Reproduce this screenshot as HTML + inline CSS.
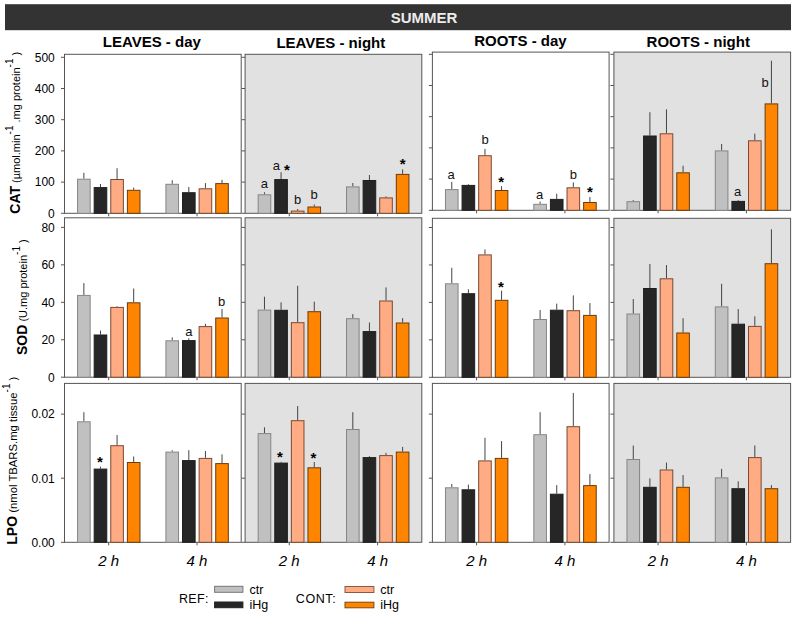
<!DOCTYPE html>
<html><head><meta charset="utf-8"><style>
html,body{margin:0;padding:0;background:#fff;width:796px;height:618px;overflow:hidden;position:relative}
</style></head><body>
<svg width="796" height="618" viewBox="0 0 796 618" style="position:absolute;left:0;top:0">
<rect x="5" y="4.2" width="786" height="26" fill="#333333"/>
<text x="424" y="22.6" text-anchor="middle" font-family='"Liberation Sans", sans-serif' font-weight="bold" font-size="15" fill="#ececec">SUMMER</text>
<text x="102.8" y="46.8" font-family='"Liberation Sans", sans-serif' font-weight="bold" font-size="15" fill="#000">LEAVES - day</text>
<text x="276.40000000000003" y="48.1" font-family='"Liberation Sans", sans-serif' font-weight="bold" font-size="15" fill="#000">LEAVES - night</text>
<text x="474.20000000000005" y="45.7" font-family='"Liberation Sans", sans-serif' font-weight="bold" font-size="15" fill="#000">ROOTS - day</text>
<text x="646.6" y="47.0" font-family='"Liberation Sans", sans-serif' font-weight="bold" font-size="15" fill="#000">ROOTS - night</text>
<rect x="64.5" y="54.3" width="176.70" height="159.00" fill="#ffffff" stroke="#555555" stroke-width="1"/>
<line x1="61.0" y1="213.30" x2="64.5" y2="213.30" stroke="#555555" stroke-width="1"/>
<text x="54.8" y="217.60" text-anchor="end" font-family='"Liberation Sans", sans-serif' font-size="12" fill="#000">0</text>
<line x1="61.0" y1="182.10" x2="64.5" y2="182.10" stroke="#555555" stroke-width="1"/>
<text x="54.8" y="186.40" text-anchor="end" font-family='"Liberation Sans", sans-serif' font-size="12" fill="#000">100</text>
<line x1="61.0" y1="150.90" x2="64.5" y2="150.90" stroke="#555555" stroke-width="1"/>
<text x="54.8" y="155.20" text-anchor="end" font-family='"Liberation Sans", sans-serif' font-size="12" fill="#000">200</text>
<line x1="61.0" y1="119.70" x2="64.5" y2="119.70" stroke="#555555" stroke-width="1"/>
<text x="54.8" y="124.00" text-anchor="end" font-family='"Liberation Sans", sans-serif' font-size="12" fill="#000">300</text>
<line x1="61.0" y1="88.50" x2="64.5" y2="88.50" stroke="#555555" stroke-width="1"/>
<text x="54.8" y="92.80" text-anchor="end" font-family='"Liberation Sans", sans-serif' font-size="12" fill="#000">400</text>
<line x1="61.0" y1="57.30" x2="64.5" y2="57.30" stroke="#555555" stroke-width="1"/>
<text x="54.8" y="61.60" text-anchor="end" font-family='"Liberation Sans", sans-serif' font-size="12" fill="#000">500</text>
<line x1="108.67" y1="213.3" x2="108.67" y2="216.3" stroke="#555555" stroke-width="1"/>
<line x1="83.87" y1="172.8" x2="83.87" y2="178.7" stroke="#444" stroke-width="1"/>
<rect x="77.57" y="179.20" width="12.6" height="34.10" fill="#c0c0c0" stroke="#858585" stroke-width="1"/>
<line x1="100.47" y1="184.0" x2="100.47" y2="187.1" stroke="#444" stroke-width="1"/>
<rect x="94.17" y="187.60" width="12.6" height="25.70" fill="#262626" stroke="#1e1e1e" stroke-width="1"/>
<line x1="117.07" y1="168.2" x2="117.07" y2="179.0" stroke="#444" stroke-width="1"/>
<rect x="110.77" y="179.50" width="12.6" height="33.80" fill="#ffac84" stroke="#7a4a30" stroke-width="1"/>
<line x1="133.68" y1="187.6" x2="133.68" y2="189.8" stroke="#444" stroke-width="1"/>
<rect x="127.38" y="190.30" width="12.6" height="23.00" fill="#ff8400" stroke="#6a3a10" stroke-width="1"/>
<line x1="197.02" y1="213.3" x2="197.02" y2="216.3" stroke="#555555" stroke-width="1"/>
<line x1="172.22" y1="180.2" x2="172.22" y2="183.8" stroke="#444" stroke-width="1"/>
<rect x="165.92" y="184.30" width="12.6" height="29.00" fill="#c0c0c0" stroke="#858585" stroke-width="1"/>
<line x1="188.82" y1="187.0" x2="188.82" y2="192.2" stroke="#444" stroke-width="1"/>
<rect x="182.52" y="192.70" width="12.6" height="20.60" fill="#262626" stroke="#1e1e1e" stroke-width="1"/>
<line x1="205.43" y1="183.1" x2="205.43" y2="188.3" stroke="#444" stroke-width="1"/>
<rect x="199.12" y="188.80" width="12.6" height="24.50" fill="#ffac84" stroke="#7a4a30" stroke-width="1"/>
<line x1="222.03" y1="179.8" x2="222.03" y2="183.1" stroke="#444" stroke-width="1"/>
<rect x="215.72" y="183.60" width="12.6" height="29.70" fill="#ff8400" stroke="#6a3a10" stroke-width="1"/>
<rect x="245.1" y="54.3" width="176.70" height="159.00" fill="#e1e1e1" stroke="#555555" stroke-width="1"/>
<line x1="241.6" y1="213.30" x2="245.1" y2="213.30" stroke="#555555" stroke-width="1"/>
<line x1="241.6" y1="182.10" x2="245.1" y2="182.10" stroke="#555555" stroke-width="1"/>
<line x1="241.6" y1="150.90" x2="245.1" y2="150.90" stroke="#555555" stroke-width="1"/>
<line x1="241.6" y1="119.70" x2="245.1" y2="119.70" stroke="#555555" stroke-width="1"/>
<line x1="241.6" y1="88.50" x2="245.1" y2="88.50" stroke="#555555" stroke-width="1"/>
<line x1="241.6" y1="57.30" x2="245.1" y2="57.30" stroke="#555555" stroke-width="1"/>
<line x1="289.27" y1="213.3" x2="289.27" y2="216.3" stroke="#555555" stroke-width="1"/>
<line x1="264.47" y1="192.3" x2="264.47" y2="194.3" stroke="#444" stroke-width="1"/>
<rect x="258.17" y="194.80" width="12.6" height="18.50" fill="#c0c0c0" stroke="#858585" stroke-width="1"/>
<line x1="281.07" y1="172.2" x2="281.07" y2="179.1" stroke="#444" stroke-width="1"/>
<rect x="274.77" y="179.60" width="12.6" height="33.70" fill="#262626" stroke="#1e1e1e" stroke-width="1"/>
<line x1="297.67" y1="209.0" x2="297.67" y2="210.6" stroke="#444" stroke-width="1"/>
<rect x="291.37" y="211.10" width="12.6" height="2.20" fill="#ffac84" stroke="#7a4a30" stroke-width="1"/>
<line x1="314.27" y1="204.5" x2="314.27" y2="206.5" stroke="#444" stroke-width="1"/>
<rect x="307.97" y="207.00" width="12.6" height="6.30" fill="#ff8400" stroke="#6a3a10" stroke-width="1"/>
<line x1="377.62" y1="213.3" x2="377.62" y2="216.3" stroke="#555555" stroke-width="1"/>
<line x1="352.82" y1="183.0" x2="352.82" y2="186.4" stroke="#444" stroke-width="1"/>
<rect x="346.52" y="186.90" width="12.6" height="26.40" fill="#c0c0c0" stroke="#858585" stroke-width="1"/>
<line x1="369.43" y1="175.0" x2="369.43" y2="180.0" stroke="#444" stroke-width="1"/>
<rect x="363.12" y="180.50" width="12.6" height="32.80" fill="#262626" stroke="#1e1e1e" stroke-width="1"/>
<line x1="386.02" y1="196.3" x2="386.02" y2="197.4" stroke="#444" stroke-width="1"/>
<rect x="379.72" y="197.90" width="12.6" height="15.40" fill="#ffac84" stroke="#7a4a30" stroke-width="1"/>
<line x1="402.62" y1="169.4" x2="402.62" y2="173.9" stroke="#444" stroke-width="1"/>
<rect x="396.32" y="174.40" width="12.6" height="38.90" fill="#ff8400" stroke="#6a3a10" stroke-width="1"/>
<rect x="432.4" y="52.1" width="176.70" height="158.20" fill="#ffffff" stroke="#555555" stroke-width="1"/>
<line x1="428.9" y1="210.30" x2="432.4" y2="210.30" stroke="#555555" stroke-width="1"/>
<line x1="428.9" y1="179.10" x2="432.4" y2="179.10" stroke="#555555" stroke-width="1"/>
<line x1="428.9" y1="147.90" x2="432.4" y2="147.90" stroke="#555555" stroke-width="1"/>
<line x1="428.9" y1="116.70" x2="432.4" y2="116.70" stroke="#555555" stroke-width="1"/>
<line x1="428.9" y1="85.50" x2="432.4" y2="85.50" stroke="#555555" stroke-width="1"/>
<line x1="428.9" y1="54.30" x2="432.4" y2="54.30" stroke="#555555" stroke-width="1"/>
<line x1="476.57" y1="210.3" x2="476.57" y2="213.3" stroke="#555555" stroke-width="1"/>
<line x1="451.77" y1="181.9" x2="451.77" y2="189.1" stroke="#444" stroke-width="1"/>
<rect x="445.47" y="189.60" width="12.6" height="20.70" fill="#c0c0c0" stroke="#858585" stroke-width="1"/>
<line x1="468.38" y1="184.2" x2="468.38" y2="184.9" stroke="#444" stroke-width="1"/>
<rect x="462.07" y="185.40" width="12.6" height="24.90" fill="#262626" stroke="#1e1e1e" stroke-width="1"/>
<line x1="484.97" y1="148.9" x2="484.97" y2="155.2" stroke="#444" stroke-width="1"/>
<rect x="478.67" y="155.70" width="12.6" height="54.60" fill="#ffac84" stroke="#7a4a30" stroke-width="1"/>
<line x1="501.57" y1="186.2" x2="501.57" y2="190.0" stroke="#444" stroke-width="1"/>
<rect x="495.27" y="190.50" width="12.6" height="19.80" fill="#ff8400" stroke="#6a3a10" stroke-width="1"/>
<line x1="564.92" y1="210.3" x2="564.92" y2="213.3" stroke="#555555" stroke-width="1"/>
<line x1="540.12" y1="201.6" x2="540.12" y2="203.8" stroke="#444" stroke-width="1"/>
<rect x="533.82" y="204.30" width="12.6" height="6.00" fill="#c0c0c0" stroke="#858585" stroke-width="1"/>
<line x1="556.72" y1="193.7" x2="556.72" y2="198.9" stroke="#444" stroke-width="1"/>
<rect x="550.42" y="199.40" width="12.6" height="10.90" fill="#262626" stroke="#1e1e1e" stroke-width="1"/>
<line x1="573.32" y1="182.4" x2="573.32" y2="187.3" stroke="#444" stroke-width="1"/>
<rect x="567.02" y="187.80" width="12.6" height="22.50" fill="#ffac84" stroke="#7a4a30" stroke-width="1"/>
<line x1="589.92" y1="197.1" x2="589.92" y2="202.0" stroke="#444" stroke-width="1"/>
<rect x="583.62" y="202.50" width="12.6" height="7.80" fill="#ff8400" stroke="#6a3a10" stroke-width="1"/>
<rect x="613.9" y="52.1" width="176.70" height="158.20" fill="#e1e1e1" stroke="#555555" stroke-width="1"/>
<line x1="610.4" y1="210.30" x2="613.9" y2="210.30" stroke="#555555" stroke-width="1"/>
<line x1="610.4" y1="179.10" x2="613.9" y2="179.10" stroke="#555555" stroke-width="1"/>
<line x1="610.4" y1="147.90" x2="613.9" y2="147.90" stroke="#555555" stroke-width="1"/>
<line x1="610.4" y1="116.70" x2="613.9" y2="116.70" stroke="#555555" stroke-width="1"/>
<line x1="610.4" y1="85.50" x2="613.9" y2="85.50" stroke="#555555" stroke-width="1"/>
<line x1="610.4" y1="54.30" x2="613.9" y2="54.30" stroke="#555555" stroke-width="1"/>
<line x1="658.08" y1="210.3" x2="658.08" y2="213.3" stroke="#555555" stroke-width="1"/>
<line x1="633.27" y1="200.1" x2="633.27" y2="201.2" stroke="#444" stroke-width="1"/>
<rect x="626.98" y="201.70" width="12.6" height="8.60" fill="#c0c0c0" stroke="#858585" stroke-width="1"/>
<line x1="649.88" y1="112.2" x2="649.88" y2="135.5" stroke="#444" stroke-width="1"/>
<rect x="643.58" y="136.00" width="12.6" height="74.30" fill="#262626" stroke="#1e1e1e" stroke-width="1"/>
<line x1="666.48" y1="109.3" x2="666.48" y2="133.3" stroke="#444" stroke-width="1"/>
<rect x="660.18" y="133.80" width="12.6" height="76.50" fill="#ffac84" stroke="#7a4a30" stroke-width="1"/>
<line x1="683.07" y1="165.7" x2="683.07" y2="172.3" stroke="#444" stroke-width="1"/>
<rect x="676.77" y="172.80" width="12.6" height="37.50" fill="#ff8400" stroke="#6a3a10" stroke-width="1"/>
<line x1="746.42" y1="210.3" x2="746.42" y2="213.3" stroke="#555555" stroke-width="1"/>
<line x1="721.62" y1="144.0" x2="721.62" y2="150.4" stroke="#444" stroke-width="1"/>
<rect x="715.32" y="150.90" width="12.6" height="59.40" fill="#c0c0c0" stroke="#858585" stroke-width="1"/>
<line x1="738.22" y1="200.1" x2="738.22" y2="200.9" stroke="#444" stroke-width="1"/>
<rect x="731.92" y="201.40" width="12.6" height="8.90" fill="#262626" stroke="#1e1e1e" stroke-width="1"/>
<line x1="754.82" y1="133.6" x2="754.82" y2="140.3" stroke="#444" stroke-width="1"/>
<rect x="748.52" y="140.80" width="12.6" height="69.50" fill="#ffac84" stroke="#7a4a30" stroke-width="1"/>
<line x1="771.42" y1="60.7" x2="771.42" y2="103.4" stroke="#444" stroke-width="1"/>
<rect x="765.12" y="103.90" width="12.6" height="106.40" fill="#ff8400" stroke="#6a3a10" stroke-width="1"/>
<rect x="64.5" y="217.8" width="176.70" height="159.40" fill="#ffffff" stroke="#555555" stroke-width="1"/>
<line x1="61.0" y1="377.20" x2="64.5" y2="377.20" stroke="#555555" stroke-width="1"/>
<text x="54.8" y="381.50" text-anchor="end" font-family='"Liberation Sans", sans-serif' font-size="12" fill="#000">0</text>
<line x1="61.0" y1="339.75" x2="64.5" y2="339.75" stroke="#555555" stroke-width="1"/>
<text x="54.8" y="344.05" text-anchor="end" font-family='"Liberation Sans", sans-serif' font-size="12" fill="#000">20</text>
<line x1="61.0" y1="302.30" x2="64.5" y2="302.30" stroke="#555555" stroke-width="1"/>
<text x="54.8" y="306.60" text-anchor="end" font-family='"Liberation Sans", sans-serif' font-size="12" fill="#000">40</text>
<line x1="61.0" y1="264.85" x2="64.5" y2="264.85" stroke="#555555" stroke-width="1"/>
<text x="54.8" y="269.15" text-anchor="end" font-family='"Liberation Sans", sans-serif' font-size="12" fill="#000">60</text>
<line x1="61.0" y1="227.40" x2="64.5" y2="227.40" stroke="#555555" stroke-width="1"/>
<text x="54.8" y="231.70" text-anchor="end" font-family='"Liberation Sans", sans-serif' font-size="12" fill="#000">80</text>
<line x1="108.67" y1="377.2" x2="108.67" y2="380.2" stroke="#555555" stroke-width="1"/>
<line x1="83.87" y1="283.1" x2="83.87" y2="294.9" stroke="#444" stroke-width="1"/>
<rect x="77.57" y="295.40" width="12.6" height="81.80" fill="#c0c0c0" stroke="#858585" stroke-width="1"/>
<line x1="100.47" y1="330.6" x2="100.47" y2="334.5" stroke="#444" stroke-width="1"/>
<rect x="94.17" y="335.00" width="12.6" height="42.20" fill="#262626" stroke="#1e1e1e" stroke-width="1"/>
<line x1="117.07" y1="306.2" x2="117.07" y2="306.9" stroke="#444" stroke-width="1"/>
<rect x="110.77" y="307.40" width="12.6" height="69.80" fill="#ffac84" stroke="#7a4a30" stroke-width="1"/>
<line x1="133.68" y1="288.5" x2="133.68" y2="302.3" stroke="#444" stroke-width="1"/>
<rect x="127.38" y="302.80" width="12.6" height="74.40" fill="#ff8400" stroke="#6a3a10" stroke-width="1"/>
<line x1="197.02" y1="377.2" x2="197.02" y2="380.2" stroke="#555555" stroke-width="1"/>
<line x1="172.22" y1="337.4" x2="172.22" y2="340.3" stroke="#444" stroke-width="1"/>
<rect x="165.92" y="340.80" width="12.6" height="36.40" fill="#c0c0c0" stroke="#858585" stroke-width="1"/>
<line x1="188.82" y1="338.3" x2="188.82" y2="340.1" stroke="#444" stroke-width="1"/>
<rect x="182.52" y="340.60" width="12.6" height="36.60" fill="#262626" stroke="#1e1e1e" stroke-width="1"/>
<line x1="205.43" y1="323.8" x2="205.43" y2="326.1" stroke="#444" stroke-width="1"/>
<rect x="199.12" y="326.60" width="12.6" height="50.60" fill="#ffac84" stroke="#7a4a30" stroke-width="1"/>
<line x1="222.03" y1="309.1" x2="222.03" y2="317.5" stroke="#444" stroke-width="1"/>
<rect x="215.72" y="318.00" width="12.6" height="59.20" fill="#ff8400" stroke="#6a3a10" stroke-width="1"/>
<rect x="245.1" y="217.8" width="176.70" height="159.40" fill="#e1e1e1" stroke="#555555" stroke-width="1"/>
<line x1="241.6" y1="377.20" x2="245.1" y2="377.20" stroke="#555555" stroke-width="1"/>
<line x1="241.6" y1="339.75" x2="245.1" y2="339.75" stroke="#555555" stroke-width="1"/>
<line x1="241.6" y1="302.30" x2="245.1" y2="302.30" stroke="#555555" stroke-width="1"/>
<line x1="241.6" y1="264.85" x2="245.1" y2="264.85" stroke="#555555" stroke-width="1"/>
<line x1="241.6" y1="227.40" x2="245.1" y2="227.40" stroke="#555555" stroke-width="1"/>
<line x1="289.27" y1="377.2" x2="289.27" y2="380.2" stroke="#555555" stroke-width="1"/>
<line x1="264.47" y1="296.7" x2="264.47" y2="309.6" stroke="#444" stroke-width="1"/>
<rect x="258.17" y="310.10" width="12.6" height="67.10" fill="#c0c0c0" stroke="#858585" stroke-width="1"/>
<line x1="281.07" y1="302.3" x2="281.07" y2="309.8" stroke="#444" stroke-width="1"/>
<rect x="274.77" y="310.30" width="12.6" height="66.90" fill="#262626" stroke="#1e1e1e" stroke-width="1"/>
<line x1="297.67" y1="285.8" x2="297.67" y2="322.2" stroke="#444" stroke-width="1"/>
<rect x="291.37" y="322.70" width="12.6" height="54.50" fill="#ffac84" stroke="#7a4a30" stroke-width="1"/>
<line x1="314.27" y1="301.7" x2="314.27" y2="311.2" stroke="#444" stroke-width="1"/>
<rect x="307.97" y="311.70" width="12.6" height="65.50" fill="#ff8400" stroke="#6a3a10" stroke-width="1"/>
<line x1="377.62" y1="377.2" x2="377.62" y2="380.2" stroke="#555555" stroke-width="1"/>
<line x1="352.82" y1="314.1" x2="352.82" y2="318.2" stroke="#444" stroke-width="1"/>
<rect x="346.52" y="318.70" width="12.6" height="58.50" fill="#c0c0c0" stroke="#858585" stroke-width="1"/>
<line x1="369.43" y1="322.5" x2="369.43" y2="331.1" stroke="#444" stroke-width="1"/>
<rect x="363.12" y="331.60" width="12.6" height="45.60" fill="#262626" stroke="#1e1e1e" stroke-width="1"/>
<line x1="386.02" y1="287.4" x2="386.02" y2="300.5" stroke="#444" stroke-width="1"/>
<rect x="379.72" y="301.00" width="12.6" height="76.20" fill="#ffac84" stroke="#7a4a30" stroke-width="1"/>
<line x1="402.62" y1="318.2" x2="402.62" y2="322.5" stroke="#444" stroke-width="1"/>
<rect x="396.32" y="323.00" width="12.6" height="54.20" fill="#ff8400" stroke="#6a3a10" stroke-width="1"/>
<rect x="432.4" y="218.3" width="176.70" height="159.00" fill="#ffffff" stroke="#555555" stroke-width="1"/>
<line x1="428.9" y1="377.30" x2="432.4" y2="377.30" stroke="#555555" stroke-width="1"/>
<line x1="428.9" y1="339.85" x2="432.4" y2="339.85" stroke="#555555" stroke-width="1"/>
<line x1="428.9" y1="302.40" x2="432.4" y2="302.40" stroke="#555555" stroke-width="1"/>
<line x1="428.9" y1="264.95" x2="432.4" y2="264.95" stroke="#555555" stroke-width="1"/>
<line x1="428.9" y1="227.50" x2="432.4" y2="227.50" stroke="#555555" stroke-width="1"/>
<line x1="476.57" y1="377.3" x2="476.57" y2="380.3" stroke="#555555" stroke-width="1"/>
<line x1="451.77" y1="267.8" x2="451.77" y2="283.3" stroke="#444" stroke-width="1"/>
<rect x="445.47" y="283.80" width="12.6" height="93.50" fill="#c0c0c0" stroke="#858585" stroke-width="1"/>
<line x1="468.38" y1="289.3" x2="468.38" y2="293.2" stroke="#444" stroke-width="1"/>
<rect x="462.07" y="293.70" width="12.6" height="83.60" fill="#262626" stroke="#1e1e1e" stroke-width="1"/>
<line x1="484.97" y1="249.4" x2="484.97" y2="254.4" stroke="#444" stroke-width="1"/>
<rect x="478.67" y="254.90" width="12.6" height="122.40" fill="#ffac84" stroke="#7a4a30" stroke-width="1"/>
<line x1="501.57" y1="290.7" x2="501.57" y2="299.8" stroke="#444" stroke-width="1"/>
<rect x="495.27" y="300.30" width="12.6" height="77.00" fill="#ff8400" stroke="#6a3a10" stroke-width="1"/>
<line x1="564.92" y1="377.3" x2="564.92" y2="380.3" stroke="#555555" stroke-width="1"/>
<line x1="540.12" y1="310.0" x2="540.12" y2="319.0" stroke="#444" stroke-width="1"/>
<rect x="533.82" y="319.50" width="12.6" height="57.80" fill="#c0c0c0" stroke="#858585" stroke-width="1"/>
<line x1="556.72" y1="303.6" x2="556.72" y2="309.7" stroke="#444" stroke-width="1"/>
<rect x="550.42" y="310.20" width="12.6" height="67.10" fill="#262626" stroke="#1e1e1e" stroke-width="1"/>
<line x1="573.32" y1="295.4" x2="573.32" y2="310.2" stroke="#444" stroke-width="1"/>
<rect x="567.02" y="310.70" width="12.6" height="66.60" fill="#ffac84" stroke="#7a4a30" stroke-width="1"/>
<line x1="589.92" y1="303.1" x2="589.92" y2="314.9" stroke="#444" stroke-width="1"/>
<rect x="583.62" y="315.40" width="12.6" height="61.90" fill="#ff8400" stroke="#6a3a10" stroke-width="1"/>
<rect x="613.9" y="218.3" width="176.70" height="159.00" fill="#e1e1e1" stroke="#555555" stroke-width="1"/>
<line x1="610.4" y1="377.30" x2="613.9" y2="377.30" stroke="#555555" stroke-width="1"/>
<line x1="610.4" y1="339.85" x2="613.9" y2="339.85" stroke="#555555" stroke-width="1"/>
<line x1="610.4" y1="302.40" x2="613.9" y2="302.40" stroke="#555555" stroke-width="1"/>
<line x1="610.4" y1="264.95" x2="613.9" y2="264.95" stroke="#555555" stroke-width="1"/>
<line x1="610.4" y1="227.50" x2="613.9" y2="227.50" stroke="#555555" stroke-width="1"/>
<line x1="658.08" y1="377.3" x2="658.08" y2="380.3" stroke="#555555" stroke-width="1"/>
<line x1="633.27" y1="299.0" x2="633.27" y2="313.5" stroke="#444" stroke-width="1"/>
<rect x="626.98" y="314.00" width="12.6" height="63.30" fill="#c0c0c0" stroke="#858585" stroke-width="1"/>
<line x1="649.88" y1="264.0" x2="649.88" y2="288.0" stroke="#444" stroke-width="1"/>
<rect x="643.58" y="288.50" width="12.6" height="88.80" fill="#262626" stroke="#1e1e1e" stroke-width="1"/>
<line x1="666.48" y1="265.1" x2="666.48" y2="278.3" stroke="#444" stroke-width="1"/>
<rect x="660.18" y="278.80" width="12.6" height="98.50" fill="#ffac84" stroke="#7a4a30" stroke-width="1"/>
<line x1="683.07" y1="318.2" x2="683.07" y2="332.5" stroke="#444" stroke-width="1"/>
<rect x="676.77" y="333.00" width="12.6" height="44.30" fill="#ff8400" stroke="#6a3a10" stroke-width="1"/>
<line x1="746.42" y1="377.3" x2="746.42" y2="380.3" stroke="#555555" stroke-width="1"/>
<line x1="721.62" y1="283.8" x2="721.62" y2="306.4" stroke="#444" stroke-width="1"/>
<rect x="715.32" y="306.90" width="12.6" height="70.40" fill="#c0c0c0" stroke="#858585" stroke-width="1"/>
<line x1="738.22" y1="309.1" x2="738.22" y2="323.7" stroke="#444" stroke-width="1"/>
<rect x="731.92" y="324.20" width="12.6" height="53.10" fill="#262626" stroke="#1e1e1e" stroke-width="1"/>
<line x1="754.82" y1="316.3" x2="754.82" y2="325.9" stroke="#444" stroke-width="1"/>
<rect x="748.52" y="326.40" width="12.6" height="50.90" fill="#ffac84" stroke="#7a4a30" stroke-width="1"/>
<line x1="771.42" y1="229.3" x2="771.42" y2="263.2" stroke="#444" stroke-width="1"/>
<rect x="765.12" y="263.70" width="12.6" height="113.60" fill="#ff8400" stroke="#6a3a10" stroke-width="1"/>
<rect x="64.5" y="383.4" width="176.70" height="158.90" fill="#ffffff" stroke="#555555" stroke-width="1"/>
<line x1="61.0" y1="542.30" x2="64.5" y2="542.30" stroke="#555555" stroke-width="1"/>
<text x="54.8" y="546.60" text-anchor="end" font-family='"Liberation Sans", sans-serif' font-size="12" fill="#000">0.00</text>
<line x1="61.0" y1="478.20" x2="64.5" y2="478.20" stroke="#555555" stroke-width="1"/>
<text x="54.8" y="482.50" text-anchor="end" font-family='"Liberation Sans", sans-serif' font-size="12" fill="#000">0.01</text>
<line x1="61.0" y1="414.10" x2="64.5" y2="414.10" stroke="#555555" stroke-width="1"/>
<text x="54.8" y="418.40" text-anchor="end" font-family='"Liberation Sans", sans-serif' font-size="12" fill="#000">0.02</text>
<line x1="108.67" y1="542.3" x2="108.67" y2="545.3" stroke="#555555" stroke-width="1"/>
<line x1="83.87" y1="412.2" x2="83.87" y2="421.3" stroke="#444" stroke-width="1"/>
<rect x="77.57" y="421.80" width="12.6" height="120.50" fill="#c0c0c0" stroke="#858585" stroke-width="1"/>
<line x1="100.47" y1="466.7" x2="100.47" y2="468.6" stroke="#444" stroke-width="1"/>
<rect x="94.17" y="469.10" width="12.6" height="73.20" fill="#262626" stroke="#1e1e1e" stroke-width="1"/>
<line x1="117.07" y1="435.0" x2="117.07" y2="445.2" stroke="#444" stroke-width="1"/>
<rect x="110.77" y="445.70" width="12.6" height="96.60" fill="#ffac84" stroke="#7a4a30" stroke-width="1"/>
<line x1="133.68" y1="456.5" x2="133.68" y2="462.0" stroke="#444" stroke-width="1"/>
<rect x="127.38" y="462.50" width="12.6" height="79.80" fill="#ff8400" stroke="#6a3a10" stroke-width="1"/>
<line x1="197.02" y1="542.3" x2="197.02" y2="545.3" stroke="#555555" stroke-width="1"/>
<line x1="172.22" y1="450.2" x2="172.22" y2="451.6" stroke="#444" stroke-width="1"/>
<rect x="165.92" y="452.10" width="12.6" height="90.20" fill="#c0c0c0" stroke="#858585" stroke-width="1"/>
<line x1="188.82" y1="450.2" x2="188.82" y2="460.1" stroke="#444" stroke-width="1"/>
<rect x="182.52" y="460.60" width="12.6" height="81.70" fill="#262626" stroke="#1e1e1e" stroke-width="1"/>
<line x1="205.43" y1="451.0" x2="205.43" y2="457.9" stroke="#444" stroke-width="1"/>
<rect x="199.12" y="458.40" width="12.6" height="83.90" fill="#ffac84" stroke="#7a4a30" stroke-width="1"/>
<line x1="222.03" y1="454.3" x2="222.03" y2="463.1" stroke="#444" stroke-width="1"/>
<rect x="215.72" y="463.60" width="12.6" height="78.70" fill="#ff8400" stroke="#6a3a10" stroke-width="1"/>
<rect x="245.1" y="383.4" width="176.70" height="158.90" fill="#e1e1e1" stroke="#555555" stroke-width="1"/>
<line x1="241.6" y1="542.30" x2="245.1" y2="542.30" stroke="#555555" stroke-width="1"/>
<line x1="241.6" y1="478.20" x2="245.1" y2="478.20" stroke="#555555" stroke-width="1"/>
<line x1="241.6" y1="414.10" x2="245.1" y2="414.10" stroke="#555555" stroke-width="1"/>
<line x1="289.27" y1="542.3" x2="289.27" y2="545.3" stroke="#555555" stroke-width="1"/>
<line x1="264.47" y1="427.3" x2="264.47" y2="433.1" stroke="#444" stroke-width="1"/>
<rect x="258.17" y="433.60" width="12.6" height="108.70" fill="#c0c0c0" stroke="#858585" stroke-width="1"/>
<line x1="281.07" y1="461.8" x2="281.07" y2="462.6" stroke="#444" stroke-width="1"/>
<rect x="274.77" y="463.10" width="12.6" height="79.20" fill="#262626" stroke="#1e1e1e" stroke-width="1"/>
<line x1="297.67" y1="406.1" x2="297.67" y2="420.2" stroke="#444" stroke-width="1"/>
<rect x="291.37" y="420.70" width="12.6" height="121.60" fill="#ffac84" stroke="#7a4a30" stroke-width="1"/>
<line x1="314.27" y1="462.0" x2="314.27" y2="467.3" stroke="#444" stroke-width="1"/>
<rect x="307.97" y="467.80" width="12.6" height="74.50" fill="#ff8400" stroke="#6a3a10" stroke-width="1"/>
<line x1="377.62" y1="542.3" x2="377.62" y2="545.3" stroke="#555555" stroke-width="1"/>
<line x1="352.82" y1="412.2" x2="352.82" y2="429.0" stroke="#444" stroke-width="1"/>
<rect x="346.52" y="429.50" width="12.6" height="112.80" fill="#c0c0c0" stroke="#858585" stroke-width="1"/>
<line x1="369.43" y1="456.2" x2="369.43" y2="457.1" stroke="#444" stroke-width="1"/>
<rect x="363.12" y="457.60" width="12.6" height="84.70" fill="#262626" stroke="#1e1e1e" stroke-width="1"/>
<line x1="386.02" y1="452.9" x2="386.02" y2="455.1" stroke="#444" stroke-width="1"/>
<rect x="379.72" y="455.60" width="12.6" height="86.70" fill="#ffac84" stroke="#7a4a30" stroke-width="1"/>
<line x1="402.62" y1="446.9" x2="402.62" y2="451.6" stroke="#444" stroke-width="1"/>
<rect x="396.32" y="452.10" width="12.6" height="90.20" fill="#ff8400" stroke="#6a3a10" stroke-width="1"/>
<rect x="432.4" y="383.4" width="176.70" height="158.90" fill="#ffffff" stroke="#555555" stroke-width="1"/>
<line x1="428.9" y1="542.30" x2="432.4" y2="542.30" stroke="#555555" stroke-width="1"/>
<line x1="428.9" y1="478.20" x2="432.4" y2="478.20" stroke="#555555" stroke-width="1"/>
<line x1="428.9" y1="414.10" x2="432.4" y2="414.10" stroke="#555555" stroke-width="1"/>
<line x1="476.57" y1="542.3" x2="476.57" y2="545.3" stroke="#555555" stroke-width="1"/>
<line x1="451.77" y1="484.0" x2="451.77" y2="487.3" stroke="#444" stroke-width="1"/>
<rect x="445.47" y="487.80" width="12.6" height="54.50" fill="#c0c0c0" stroke="#858585" stroke-width="1"/>
<line x1="468.38" y1="484.6" x2="468.38" y2="489.3" stroke="#444" stroke-width="1"/>
<rect x="462.07" y="489.80" width="12.6" height="52.50" fill="#262626" stroke="#1e1e1e" stroke-width="1"/>
<line x1="484.97" y1="437.8" x2="484.97" y2="460.4" stroke="#444" stroke-width="1"/>
<rect x="478.67" y="460.90" width="12.6" height="81.40" fill="#ffac84" stroke="#7a4a30" stroke-width="1"/>
<line x1="501.57" y1="441.1" x2="501.57" y2="457.9" stroke="#444" stroke-width="1"/>
<rect x="495.27" y="458.40" width="12.6" height="83.90" fill="#ff8400" stroke="#6a3a10" stroke-width="1"/>
<line x1="564.92" y1="542.3" x2="564.92" y2="545.3" stroke="#555555" stroke-width="1"/>
<line x1="540.12" y1="412.2" x2="540.12" y2="434.2" stroke="#444" stroke-width="1"/>
<rect x="533.82" y="434.70" width="12.6" height="107.60" fill="#c0c0c0" stroke="#858585" stroke-width="1"/>
<line x1="556.72" y1="485.1" x2="556.72" y2="493.7" stroke="#444" stroke-width="1"/>
<rect x="550.42" y="494.20" width="12.6" height="48.10" fill="#262626" stroke="#1e1e1e" stroke-width="1"/>
<line x1="573.32" y1="392.9" x2="573.32" y2="426.2" stroke="#444" stroke-width="1"/>
<rect x="567.02" y="426.70" width="12.6" height="115.60" fill="#ffac84" stroke="#7a4a30" stroke-width="1"/>
<line x1="589.92" y1="474.1" x2="589.92" y2="485.1" stroke="#444" stroke-width="1"/>
<rect x="583.62" y="485.60" width="12.6" height="56.70" fill="#ff8400" stroke="#6a3a10" stroke-width="1"/>
<rect x="613.9" y="383.4" width="176.70" height="158.90" fill="#e1e1e1" stroke="#555555" stroke-width="1"/>
<line x1="610.4" y1="542.30" x2="613.9" y2="542.30" stroke="#555555" stroke-width="1"/>
<line x1="610.4" y1="478.20" x2="613.9" y2="478.20" stroke="#555555" stroke-width="1"/>
<line x1="610.4" y1="414.10" x2="613.9" y2="414.10" stroke="#555555" stroke-width="1"/>
<line x1="658.08" y1="542.3" x2="658.08" y2="545.3" stroke="#555555" stroke-width="1"/>
<line x1="633.27" y1="445.5" x2="633.27" y2="459.0" stroke="#444" stroke-width="1"/>
<rect x="626.98" y="459.50" width="12.6" height="82.80" fill="#c0c0c0" stroke="#858585" stroke-width="1"/>
<line x1="649.88" y1="478.3" x2="649.88" y2="486.8" stroke="#444" stroke-width="1"/>
<rect x="643.58" y="487.30" width="12.6" height="55.00" fill="#262626" stroke="#1e1e1e" stroke-width="1"/>
<line x1="666.48" y1="462.6" x2="666.48" y2="469.5" stroke="#444" stroke-width="1"/>
<rect x="660.18" y="470.00" width="12.6" height="72.30" fill="#ffac84" stroke="#7a4a30" stroke-width="1"/>
<line x1="683.07" y1="475.0" x2="683.07" y2="486.8" stroke="#444" stroke-width="1"/>
<rect x="676.77" y="487.30" width="12.6" height="55.00" fill="#ff8400" stroke="#6a3a10" stroke-width="1"/>
<line x1="746.42" y1="542.3" x2="746.42" y2="545.3" stroke="#555555" stroke-width="1"/>
<line x1="721.62" y1="468.9" x2="721.62" y2="477.4" stroke="#444" stroke-width="1"/>
<rect x="715.32" y="477.90" width="12.6" height="64.40" fill="#c0c0c0" stroke="#858585" stroke-width="1"/>
<line x1="738.22" y1="481.3" x2="738.22" y2="488.2" stroke="#444" stroke-width="1"/>
<rect x="731.92" y="488.70" width="12.6" height="53.60" fill="#262626" stroke="#1e1e1e" stroke-width="1"/>
<line x1="754.82" y1="445.5" x2="754.82" y2="457.1" stroke="#444" stroke-width="1"/>
<rect x="748.52" y="457.60" width="12.6" height="84.70" fill="#ffac84" stroke="#7a4a30" stroke-width="1"/>
<line x1="771.42" y1="485.1" x2="771.42" y2="488.2" stroke="#444" stroke-width="1"/>
<rect x="765.12" y="488.70" width="12.6" height="53.60" fill="#ff8400" stroke="#6a3a10" stroke-width="1"/>
<text x="264.3" y="188.0" text-anchor="middle" font-family='"Liberation Sans", sans-serif' font-size="13" fill="#111">a</text>
<text x="276.3" y="169.6" text-anchor="middle" font-family='"Liberation Sans", sans-serif' font-size="13" fill="#111">a</text>
<text x="286.9" y="174.70" text-anchor="middle" font-family='"Liberation Sans", sans-serif' font-weight="bold" font-size="15" fill="#000">*</text>
<text x="297.5" y="203.8" text-anchor="middle" font-family='"Liberation Sans", sans-serif' font-size="13" fill="#111">b</text>
<text x="314.0" y="199.2" text-anchor="middle" font-family='"Liberation Sans", sans-serif' font-size="13" fill="#111">b</text>
<text x="402.6" y="169.00" text-anchor="middle" font-family='"Liberation Sans", sans-serif' font-weight="bold" font-size="15" fill="#000">*</text>
<text x="451.0" y="178.5" text-anchor="middle" font-family='"Liberation Sans", sans-serif' font-size="13" fill="#111">a</text>
<text x="485.0" y="143.9" text-anchor="middle" font-family='"Liberation Sans", sans-serif' font-size="13" fill="#111">b</text>
<text x="501.2" y="187.10" text-anchor="middle" font-family='"Liberation Sans", sans-serif' font-weight="bold" font-size="15" fill="#000">*</text>
<text x="539.7" y="198.6" text-anchor="middle" font-family='"Liberation Sans", sans-serif' font-size="13" fill="#111">a</text>
<text x="573.4" y="179.0" text-anchor="middle" font-family='"Liberation Sans", sans-serif' font-size="13" fill="#111">b</text>
<text x="589.9" y="196.60" text-anchor="middle" font-family='"Liberation Sans", sans-serif' font-weight="bold" font-size="15" fill="#000">*</text>
<text x="737.5" y="195.6" text-anchor="middle" font-family='"Liberation Sans", sans-serif' font-size="13" fill="#111">a</text>
<text x="765.0" y="87.4" text-anchor="middle" font-family='"Liberation Sans", sans-serif' font-size="13" fill="#111">b</text>
<text x="188.8" y="335.6" text-anchor="middle" font-family='"Liberation Sans", sans-serif' font-size="13" fill="#111">a</text>
<text x="221.6" y="305.5" text-anchor="middle" font-family='"Liberation Sans", sans-serif' font-size="13" fill="#111">b</text>
<text x="501.0" y="292.20" text-anchor="middle" font-family='"Liberation Sans", sans-serif' font-weight="bold" font-size="15" fill="#000">*</text>
<text x="99.8" y="467.40" text-anchor="middle" font-family='"Liberation Sans", sans-serif' font-weight="bold" font-size="15" fill="#000">*</text>
<text x="280.0" y="462.10" text-anchor="middle" font-family='"Liberation Sans", sans-serif' font-weight="bold" font-size="15" fill="#000">*</text>
<text x="313.3" y="462.80" text-anchor="middle" font-family='"Liberation Sans", sans-serif' font-weight="bold" font-size="15" fill="#000">*</text>
<text x="108.67" y="566.1" text-anchor="middle" font-family='"Liberation Sans", sans-serif' font-style="italic" font-size="15" fill="#000">2 h</text>
<text x="197.02" y="566.1" text-anchor="middle" font-family='"Liberation Sans", sans-serif' font-style="italic" font-size="15" fill="#000">4 h</text>
<text x="289.27" y="566.1" text-anchor="middle" font-family='"Liberation Sans", sans-serif' font-style="italic" font-size="15" fill="#000">2 h</text>
<text x="377.62" y="566.1" text-anchor="middle" font-family='"Liberation Sans", sans-serif' font-style="italic" font-size="15" fill="#000">4 h</text>
<text x="476.57" y="566.1" text-anchor="middle" font-family='"Liberation Sans", sans-serif' font-style="italic" font-size="15" fill="#000">2 h</text>
<text x="564.92" y="566.1" text-anchor="middle" font-family='"Liberation Sans", sans-serif' font-style="italic" font-size="15" fill="#000">4 h</text>
<text x="658.08" y="566.1" text-anchor="middle" font-family='"Liberation Sans", sans-serif' font-style="italic" font-size="15" fill="#000">2 h</text>
<text x="746.42" y="566.1" text-anchor="middle" font-family='"Liberation Sans", sans-serif' font-style="italic" font-size="15" fill="#000">4 h</text>
<text transform="translate(19.8,213.7) rotate(-90)" font-family='"Liberation Sans", sans-serif' fill="#000"><tspan font-weight="bold" font-size="14">CAT</tspan><tspan font-size="11"> (µmol.min</tspan><tspan font-size="10" dy="-7">-1</tspan><tspan font-size="11" dy="7"> </tspan><tspan font-size="11">.mg protein</tspan><tspan font-size="10" dy="-7">-1</tspan><tspan font-size="11" dy="7"> </tspan><tspan font-size="11">)</tspan></text>
<text transform="translate(27.4,355.0) rotate(-90)" font-family='"Liberation Sans", sans-serif' fill="#000"><tspan font-weight="bold" font-size="14">SOD</tspan><tspan font-size="11"> (U.mg protein</tspan><tspan font-size="10" dy="-7">-1</tspan><tspan font-size="11" dy="7"> </tspan><tspan font-size="11">)</tspan></text>
<text transform="translate(17.3,544.7) rotate(-90)" font-family='"Liberation Sans", sans-serif' fill="#000"><tspan font-weight="bold" font-size="14">LPO</tspan><tspan font-size="11.3"> (nmol TBARS.mg tissue</tspan><tspan font-size="10" dy="-7">-1</tspan><tspan font-size="11.3" dy="7"> </tspan><tspan font-size="11.3">)</tspan></text>
<text x="179" y="602.6" font-family='"Liberation Sans", sans-serif' font-size="12.5" letter-spacing="0.3" fill="#000">REF:</text>
<rect x="214.6" y="586.3" width="28.3" height="6" fill="#c0c0c0" stroke="#777" stroke-width="1"/>
<rect x="214.6" y="602" width="28.3" height="5.7" fill="#262626" stroke="#222" stroke-width="1"/>
<text x="249.5" y="594.3" font-family='"Liberation Sans", sans-serif' font-size="12.5" fill="#000">ctr</text>
<text x="249.5" y="609.1" font-family='"Liberation Sans", sans-serif' font-size="12.5" fill="#000">iHg</text>
<text x="295.8" y="602.6" font-family='"Liberation Sans", sans-serif' font-size="12.5" letter-spacing="0.6" fill="#000">CONT:</text>
<rect x="345" y="586.5" width="28.9" height="6" fill="#ffac84" stroke="#8a5a40" stroke-width="1"/>
<rect x="345" y="602.2" width="28.9" height="5.6" fill="#ff8400" stroke="#7a4a10" stroke-width="1"/>
<text x="380.2" y="594.3" font-family='"Liberation Sans", sans-serif' font-size="12.5" fill="#000">ctr</text>
<text x="380.2" y="609.1" font-family='"Liberation Sans", sans-serif' font-size="12.5" fill="#000">iHg</text>
</svg>
</body></html>
